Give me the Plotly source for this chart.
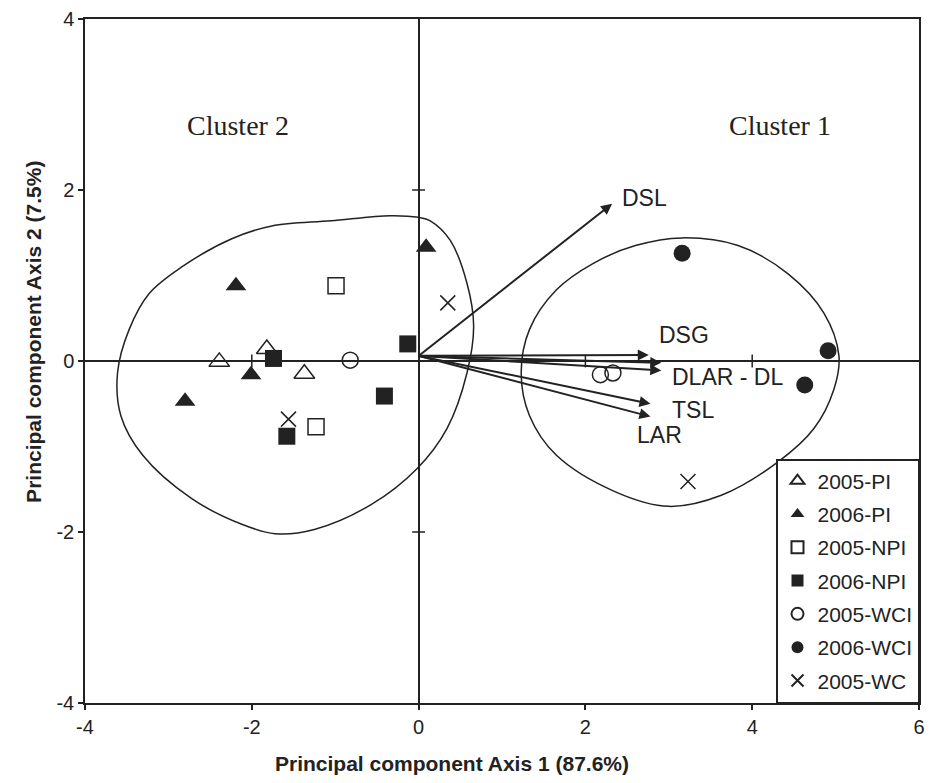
import plotly.graph_objects as go

# ---------------- data ----------------
pi05_x = [-2.39, -1.82, -1.37]
pi05_y = [-0.01, 0.14, -0.15]
pi06_x = [-2.19, -2.01, -2.80, 0.09]
pi06_y = [0.88, -0.16, -0.47, 1.33]
npi05_x = [-0.99, -1.23]
npi05_y = [0.88, -0.77]
npi06_x = [-1.74, -0.13, -0.41, -1.58]
npi06_y = [0.03, 0.20, -0.41, -0.88]
wci05_x = [-0.82, 2.18, 2.33]
wci05_y = [0.01, -0.16, -0.14]
wci06_x = [3.16, 4.91, 4.63]
wci06_y = [1.26, 0.12, -0.28]
wc05_x = [-1.56, 0.35, 3.23]
wc05_y = [-0.68, 0.68, -1.41]

# loading vectors
vec_origin = (0.0, 0.06)
vec_names = ["DSL", "DSG", "DLAR", "DL", "TSL", "LAR"]
vec_x = [2.32, 2.76, 2.91, 2.91, 2.78, 2.78]
vec_y = [1.84, 0.07, -0.02, -0.11, -0.50, -0.65]
vec_labels = ["DSL", "DSG", "DLAR - DL", "TSL", "LAR"]
vec_label_x = [2.41, 2.86, 3.01, 3.01, 2.60]
vec_label_y = [1.91, 0.31, -0.19, -0.57, -0.87]

# cluster outlines
c2_x = [0.0, -0.34, -1.05, -1.76, -2.24, -2.84, -3.23, -3.47, -3.61, -3.57, -3.31, -2.72,
        -2.12, -1.72, -1.25, -0.57, -0.02, 0.34, 0.58, 0.66, 0.58, 0.38, 0.14]
c2_y = [1.68, 1.70, 1.64, 1.58, 1.43, 1.10, 0.79, 0.37, -0.14, -0.64, -1.10, -1.61,
        -1.91, -2.02, -1.97, -1.68, -1.26, -0.79, -0.14, 0.41, 0.91, 1.41, 1.64]
c1_x = [3.16, 3.83, 4.43, 4.86, 5.04, 4.98, 4.74, 4.31, 3.63, 3.00, 2.36, 1.65,
        1.33, 1.23, 1.33, 1.65, 2.09, 2.60]
c1_y = [1.44, 1.35, 1.02, 0.56, 0.06, -0.33, -0.79, -1.18, -1.57, -1.70, -1.53, -1.10,
        -0.64, -0.14, 0.37, 0.83, 1.14, 1.35]
cluster_names = ["Cluster 2", "Cluster 1"]
cluster_label_x = [-2.17, 4.33]
cluster_label_y = [2.76, 2.76]

x_ticks = [-4, -2, 0, 2, 4, 6]
x_ticktext = ["-4", "-2", "0", "2", "4", "6"]
y_ticks = [-4, -2, 0, 2, 4]
y_ticktext = ["-4", "-2", "0", "2", "4"]

INK = "#222222"
SANS = "Arial, Liberation Sans, sans-serif"
SERIF = "Times New Roman, Liberation Serif, serif"

fig = go.Figure()

# outlines
for cx, cy in [(c2_x, c2_y), (c1_x, c1_y)]:
    fig.add_trace(go.Scatter(
        x=cx + cx[:1], y=cy + cy[:1], mode="lines",
        line=dict(color=INK, width=1.5, shape="spline", smoothing=1.0),
        showlegend=False, hoverinfo="skip"))

series = [
    ("2005-PI", pi05_x, pi05_y, "triangle-up-open", 18, 1.5),
    ("2006-PI", pi06_x, pi06_y, "triangle-up", 18, 0),
    ("2005-NPI", npi05_x, npi05_y, "square-open", 16, 1.5),
    ("2006-NPI", npi06_x, npi06_y, "square", 17, 0),
    ("2005-WCI", wci05_x, wci05_y, "circle-open", 16, 1.5),
    ("2006-WCI", wci06_x, wci06_y, "circle", 17, 0),
    ("2005-WC", wc05_x, wc05_y, "x-thin-open", 15, 1.5),
]
for name, sx, sy, sym, size, lw in series:
    fig.add_trace(go.Scatter(
        x=sx, y=sy, mode="markers", name=name, legendgroup=name,
        marker=dict(symbol=sym, size=size, color=INK,
                    line=dict(color=INK, width=lw))))

annotations = []
ox, oy = vec_origin
for vx, vy in zip(vec_x, vec_y):
    annotations.append(dict(
        x=vx, y=vy, ax=ox, ay=oy, xref="x", yref="y", axref="x", ayref="y",
        text="", showarrow=True, arrowhead=2, arrowsize=1.1, arrowwidth=2,
        arrowcolor=INK))
for t, lx, ly in zip(vec_labels, vec_label_x, vec_label_y):
    annotations.append(dict(
        x=lx, y=ly, xref="x", yref="y", text=t, showarrow=False,
        xanchor="left", yanchor="middle", font=dict(family=SANS, size=23, color=INK)))
for t, lx, ly in zip(cluster_names, cluster_label_x, cluster_label_y):
    annotations.append(dict(
        x=lx, y=ly, xref="x", yref="y", text=t, showarrow=False,
        xanchor="center", yanchor="middle", font=dict(family=SERIF, size=28, color=INK)))

# axis titles
annotations.append(dict(
    x=0.44, y=-0.088, xref="paper", yref="paper", text="<b>Principal component Axis 1 (87.6%)</b>",
    showarrow=False, xanchor="center", yanchor="middle",
    font=dict(family=SANS, size=21, color=INK)))
annotations.append(dict(
    x=-0.062, y=0.543, xref="paper", yref="paper", text="<b>Principal component Axis 2 (7.5%)</b>",
    showarrow=False, xanchor="center", yanchor="middle", textangle=-90,
    font=dict(family=SANS, size=21, color=INK)))

# small cross ticks on the zero lines
shapes = []
for t in x_ticks:
    if t not in (0, x_ticks[0], x_ticks[-1]):
        shapes.append(dict(type="line", xref="x", yref="y", x0=t, x1=t, y0=-0.075, y1=0.075,
                           line=dict(color=INK, width=1.5)))
for t in y_ticks:
    if t not in (0, y_ticks[0], y_ticks[-1]):
        shapes.append(dict(type="line", xref="x", yref="y", x0=-0.077, x1=0.077, y0=t, y1=t,
                           line=dict(color=INK, width=1.5)))

axis_common = dict(
    showgrid=False, zeroline=True, zerolinecolor=INK, zerolinewidth=1.5,
    showline=True, linecolor=INK, linewidth=1.5, mirror=True,
    ticks="outside", ticklen=5, tickcolor=INK, tickwidth=1.5,
    tickfont=dict(family=SANS, size=20, color=INK))

fig.update_layout(
    width=933, height=783,
    margin=dict(l=85, r=8, t=13, b=80),
    plot_bgcolor="white", paper_bgcolor="white",
    xaxis=dict(range=[-4, 6], tickvals=x_ticks, ticktext=x_ticktext, **axis_common),
    yaxis=dict(range=[-4, 4], tickvals=y_ticks, ticktext=y_ticktext, **axis_common),
    annotations=annotations, shapes=shapes,
    legend=dict(x=1, y=0, xanchor="right", yanchor="bottom",
                bordercolor=INK, borderwidth=1.5, bgcolor="white",
                font=dict(family=SANS, size=21, color=INK),
                tracegroupgap=3, itemwidth=30, itemsizing="constant"),
)

fig.write_html("out.html")
